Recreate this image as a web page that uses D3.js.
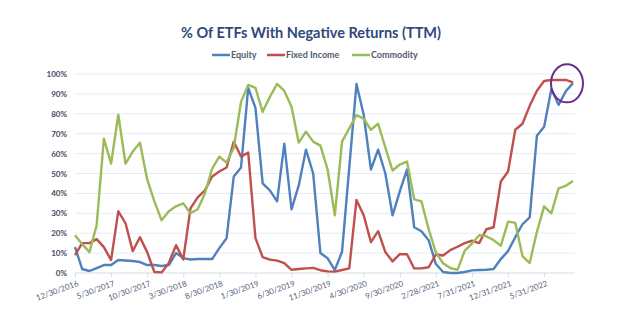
<!DOCTYPE html>
<html>
<head>
<meta charset="utf-8">
<script src="https://cdn.jsdelivr.net/npm/d3@7"></script>
<style>
  html, body { margin: 0; padding: 0; background: #fff; }
  svg { display: block; }
</style>
</head>
<body>
<svg id="chart" width="633" height="329"></svg>
<script>
// monthly points, 12/30/2016 .. 9/30/2022 (70 months), labels every 5th month
const tickLabels = ["12/30/2016", "5/30/2017", "10/30/2017", "3/30/2018", "8/30/2018", "1/30/2019",
  "6/30/2019", "11/30/2019", "4/30/2020", "9/30/2020", "2/28/2021", "7/31/2021", "12/31/2021", "5/31/2022"];

const equity = [13, 2, 1, 2.5, 4, 4, 6.5, 6.3, 6, 5.5, 4, 4, 3.5, 4, 10, 7.5, 6.8, 7, 7, 7,
  12.5, 17.5, 48.5, 53, 93, 83, 45, 41.5, 36, 65, 32, 44, 62, 50, 10, 7.4, 1.5, 10.7, 53, 95,
  79.5, 52, 62, 50, 29, 41, 52, 23, 21, 16.5, 4.5, 0.5, 0, 0, 0.5, 1.3, 1.5, 1.6, 2, 7,
  11, 18, 24.5, 28, 69, 73.5, 92.3, 84.5, 91.3, 95.4];

const fixedIncome = [9, 15, 15, 17, 13, 6.5, 31, 25, 11, 18, 10.5, 0.5, 0.3, 5, 14, 6.8, 32.5, 38, 41.5, 48.5,
  51, 53, 66, 58.5, 60.5, 17.5, 8, 6.7, 6.2, 5, 1.6, 2, 2.3, 2.6, 1.4, 0.8, 0.7, 1.5, 2.3, 36.7,
  29, 15.5, 21, 10.5, 5.8, 9.5, 9.4, 2.3, 2.3, 2.9, 9.3, 8.8, 11.5, 13.2, 15, 16.2, 15, 22, 23, 46,
  51, 72, 75, 84, 91.6, 96.5, 97, 97, 97, 95.8];

const commodity = [19, 14.5, 10.5, 24, 67.5, 55, 79.5, 55, 61, 65.5, 47, 36, 26.5, 31, 33.5, 35, 30, 32, 40, 52.5,
  58.5, 55.5, 63, 86, 94.5, 93, 81, 88.5, 95, 91.5, 83.5, 65.5, 71, 66, 64, 52, 29, 66, 72.7, 79.3,
  77.5, 72, 75, 63, 51.5, 54.5, 56, 37, 36, 22, 10.3, 4.9, 2.5, 1.6, 11.2, 14.8, 19, 18.5, 16.5, 13.7,
  25.8, 25.2, 8.5, 5, 20.7, 33.5, 30, 42.5, 43.8, 46.2];

const seriesNames = ["Equity", "Fixed Income", "Commodity"];
const seriesColors = ["#4f81bd", "#c0504d", "#9bbb59"];
const yTicks = [0, 10, 20, 30, 40, 50, 60, 70, 80, 90, 100];

const series = [equity, fixedIncome, commodity];

const svg = d3.select("#chart");
const margin = { left: 75, right: 58, top: 74, bottom: 56 };
const W = 633, H = 329;

const x = d3.scaleLinear().domain([0, equity.length - 1]).range([margin.left, W - 60]);
const y = d3.scaleLinear().domain([0, 100]).range([H - margin.bottom, margin.top]);

// title
svg.append("text")
  .attr("x", 311).attr("y", 38)
  .attr("text-anchor", "middle")
  .style("font-family", "Lato, 'Open Sans', sans-serif")
  .style("font-weight", "bold")
  .style("font-size", "14.5px")
  .attr("fill", "#30487a")
  .text("% Of ETFs With Negative Returns (TTM)");

// legend
const legendX = [212, 267, 352];
const legend = svg.append("g");
seriesNames.forEach((name, i) => {
  const g = legend.append("g").attr("transform", `translate(${legendX[i]},55)`);
  g.append("line").attr("x1", 0).attr("x2", 18).attr("y1", 0).attr("y2", 0)
    .attr("stroke", seriesColors[i]).attr("stroke-width", 2.5);
  g.append("text").attr("x", 19).attr("y", 3)
    .style("font-family", "Lato, sans-serif")
    .style("font-size", "9px")
    .style("font-weight", "bold")
    .attr("fill", "#505a6c")
    .text(name);
});

// gridlines
svg.append("g").selectAll("line")
  .data(yTicks)
  .join("line")
  .attr("x1", margin.left).attr("x2", W - 58)
  .attr("y1", d => y(d)).attr("y2", d => y(d))
  .attr("stroke", d => d === 0 ? "#d6dbe6" : "#e6ebf3")
  .attr("stroke-width", 1);

// y axis labels
const yAxis = svg.append("g")
  .attr("transform", `translate(${margin.left},0)`)
  .call(d3.axisLeft(y).tickValues(yTicks).tickSize(0).tickPadding(8).tickFormat(d => d + "%"));
yAxis.select(".domain").remove();
yAxis.selectAll("text")
  .style("font-family", "Lato, sans-serif")
  .style("font-size", "8px")
  .style("font-weight", "bold")
  .attr("fill", "#3f4a63");

// x axis
const tickIdx = tickLabels.map((d, i) => i * 5);
const xAxis = svg.append("g")
  .attr("transform", `translate(0,${y(0)})`)
  .call(d3.axisBottom(x).tickValues(tickIdx).tickSize(4).tickFormat((d, i) => tickLabels[i]));
xAxis.select(".domain").remove();
xAxis.selectAll(".tick line").attr("stroke", "#d6dbe6");
xAxis.selectAll("text")
  .style("font-family", "Lato, sans-serif")
  .style("font-size", "8px")
  .attr("fill", "#56617a")
  .attr("text-anchor", "end")
  .attr("dx", "-1px")
  .attr("dy", "6px")
  .attr("transform", "rotate(-20)");

// lines
const line = d3.line().x((d, i) => x(i)).y(d => y(d));
svg.append("g").selectAll("path")
  .data(series)
  .join("path")
  .attr("d", line)
  .attr("fill", "none")
  .attr("stroke", (d, i) => seriesColors[i])
  .attr("stroke-width", 2.4)
  .attr("stroke-linejoin", "round");

// highlight circle at the end
const last = equity.length - 1;
svg.append("ellipse")
  .attr("cx", x(last) - 6).attr("cy", y(fixedIncome[last]) + 1)
  .attr("rx", 16).attr("ry", 19)
  .attr("fill", "none")
  .attr("stroke", "#6b2c8f")
  .attr("stroke-width", 2);
</script>
</body>
</html>
